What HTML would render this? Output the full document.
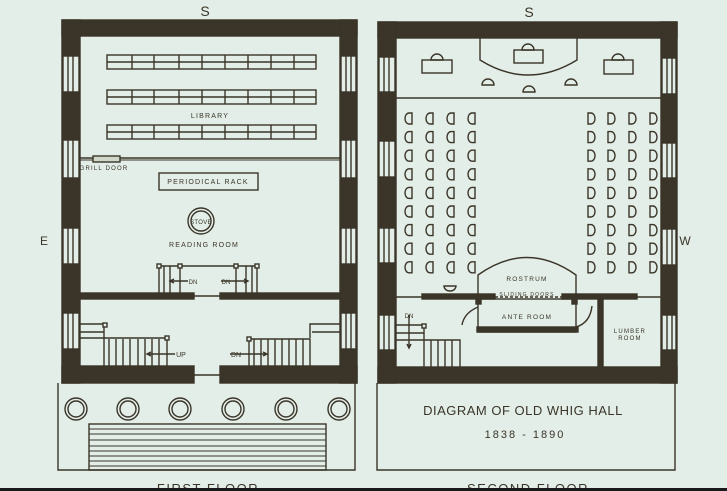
<!DOCTYPE html>
<html><head><meta charset="utf-8"><style>
html,body{margin:0;padding:0;background:#e3eee8;}
svg{display:block;}
text{font-family:"Liberation Sans",sans-serif;fill:#3a3528;}
</style></head><body>
<svg width="727" height="491" viewBox="0 0 727 491" xmlns="http://www.w3.org/2000/svg">
<rect width="727" height="491" fill="#e3eee8"/>
<g stroke="#3a3528" fill="none" stroke-width="1.4">
<rect x="62" y="20" width="295" height="16" fill="#3a3528"/>
<rect x="62" y="20" width="18" height="363" fill="#3a3528"/>
<rect x="340" y="20" width="17" height="363" fill="#3a3528"/>
<rect x="62" y="366" width="132" height="17" fill="#3a3528"/>
<rect x="220" y="366" width="137" height="17" fill="#3a3528"/>
<line x1="194" y1="375" x2="220" y2="375"/>
<rect x="80" y="293" width="114" height="6" fill="#3a3528"/>
<rect x="220" y="293" width="120" height="6" fill="#3a3528"/>
<line x1="194" y1="296" x2="220" y2="296"/>
<g fill="#e3eee8">
<rect x="63" y="56" width="16" height="36"/><rect x="341" y="56" width="15" height="36"/>
<rect x="63" y="140" width="16" height="38"/><rect x="341" y="140" width="15" height="38"/>
<rect x="63" y="228" width="16" height="36"/><rect x="341" y="228" width="15" height="36"/>
<rect x="63" y="313" width="16" height="36"/><rect x="341" y="313" width="15" height="36"/>
</g>
<path d="M68 56V92M73 56V92M68 140V178M73 140V178M68 228V264M73 228V264M68 313V349M73 313V349M346 56V92M351 56V92M346 140V178M351 140V178M346 228V264M351 228V264M346 313V349M351 313V349"/>
<g>
<rect x="107" y="55" width="209" height="14"/><line x1="107" y1="62" x2="316" y2="62"/>
<rect x="107" y="90" width="209" height="14"/><line x1="107" y1="97" x2="316" y2="97"/>
<rect x="107" y="125" width="209" height="14"/><line x1="107" y1="132" x2="316" y2="132"/>
<path d="M132 55V69M154 55V69M179 55V69M202 55V69M225 55V69M248 55V69M271 55V69M294 55V69M132 90V104M154 90V104M179 90V104M202 90V104M225 90V104M248 90V104M271 90V104M294 90V104M132 125V139M154 125V139M179 125V139M202 125V139M225 125V139M248 125V139M271 125V139M294 125V139"/>
</g>
<line x1="80" y1="158" x2="340" y2="158" stroke-width="1.5"/><line x1="80" y1="160" x2="340" y2="160" stroke-width="1"/>
<rect x="93" y="156" width="27" height="6" fill="#cfd8c8"/>
<rect x="159" y="173" width="99" height="17"/>
<circle cx="201" cy="221" r="13"/><circle cx="201" cy="221" r="10"/>
<path d="M159 266H257M159 266V293M257 266V293M164 266V293M170 266V293M180 266V293M236 266V293M246 266V293M252 266V293"/>
<rect x="157" y="264" width="4" height="4" fill="#e3eee8"/><rect x="178" y="264" width="4" height="4" fill="#e3eee8"/>
<rect x="234" y="264" width="4" height="4" fill="#e3eee8"/><rect x="255" y="264" width="4" height="4" fill="#e3eee8"/>
<path d="M170 281H188M174 279L170 281L174 283M221 281H248M244 279L248 281L244 283"/>
<path d="M80 324H104V332H80M80 338H104M104 326V338H167V366M104 338V366M109 339V366M116 339V366M123 339V366M130 339V366M138 339V366M145 339V366M152 339V366M159 339V366"/>
<rect x="103" y="323" width="4" height="4" fill="#e3eee8"/><rect x="165" y="336" width="4" height="4" fill="#e3eee8"/>
<path d="M340 324H310V338M340 332H312M249 339H310V366M249 339V366M254 339V366M261 339V366M268 339V366M275 339V366M282 339V366M289 339V366M296 339V366M303 339V366"/>
<rect x="247" y="337" width="4" height="4" fill="#e3eee8"/>
<path d="M147 354H175M151 352L147 354L151 356M230 354H267M263 352L267 354L263 356"/>
<path d="M58 383V470H355V383"/>
<g>
<circle cx="76" cy="409" r="11"/><circle cx="76" cy="409" r="8"/>
<circle cx="128" cy="409" r="11"/><circle cx="128" cy="409" r="8"/>
<circle cx="180" cy="409" r="11"/><circle cx="180" cy="409" r="8"/>
<circle cx="233" cy="409" r="11"/><circle cx="233" cy="409" r="8"/>
<circle cx="286" cy="409" r="11"/><circle cx="286" cy="409" r="8"/>
<circle cx="339" cy="409" r="11"/><circle cx="339" cy="409" r="8"/>
</g>
<rect x="89" y="424" width="237" height="46"/>
<path d="M89 429H326M89 434H326M89 440H326M89 446H326M89 451H326M89 456H326M89 461H326M89 466H326" stroke-width="1"/>

<rect x="378" y="22" width="299" height="16" fill="#3a3528"/>
<rect x="378" y="22" width="18" height="361" fill="#3a3528"/>
<rect x="661" y="22" width="16" height="361" fill="#3a3528"/>
<rect x="378" y="367" width="299" height="16" fill="#3a3528"/>
<g fill="#e3eee8">
<rect x="379" y="57" width="16" height="35"/><rect x="662" y="58" width="14" height="36"/>
<rect x="379" y="141" width="16" height="36"/><rect x="662" y="143" width="14" height="35"/>
<rect x="379" y="228" width="16" height="35"/><rect x="662" y="229" width="14" height="36"/>
<rect x="379" y="315" width="16" height="35"/><rect x="662" y="315" width="14" height="35"/>
</g>
<path d="M384 57V92M389 57V92M384 141V177M389 141V177M384 228V263M389 228V263M384 315V350M389 315V350M667 58V94M672 58V94M667 143V178M672 143V178M667 229V265M672 229V265M667 315V350M672 315V350"/>
<line x1="396" y1="98" x2="661" y2="98"/>
<path d="M480 38V60Q528 90 577 60V38"/>
<rect x="422" y="60" width="30" height="13"/><path d="M431 60A6 6 0 0 1 443 60Z"/>
<rect x="514" y="50" width="29" height="13"/><path d="M522 50A6 6 0 0 1 534 50Z"/>
<rect x="604" y="60" width="29" height="14"/><path d="M612 60A6 6 0 0 1 624 60Z"/>
<path d="M482 85A6 6 0 0 1 494 85Z"/><path d="M523 92A6 6 0 0 1 535 92Z"/><path d="M565 85A6 6 0 0 1 577 85Z"/>
<g id="lseat">
<path d="M409 113A4 5.5 0 0 0 409 124H412V113Z"/><path d="M430 113A4 5.5 0 0 0 430 124H433V113Z"/><path d="M451 113A4 5.5 0 0 0 451 124H454V113Z"/><path d="M472 113A4 5.5 0 0 0 472 124H475V113Z"/>
<path d="M588 113V124H591A4 5.5 0 0 0 591 113Z"/><path d="M608 113V124H611A4 5.5 0 0 0 611 113Z"/><path d="M629 113V124H632A4 5.5 0 0 0 632 113Z"/><path d="M650 113V124H653A4 5.5 0 0 0 653 113Z"/>
</g>
<use href="#lseat" y="18.6"/><use href="#lseat" y="37.2"/><use href="#lseat" y="55.8"/><use href="#lseat" y="74.4"/><use href="#lseat" y="93"/><use href="#lseat" y="111.6"/><use href="#lseat" y="130.2"/><use href="#lseat" y="148.8"/>
<path d="M444 286H456A6 5 0 0 1 444 286Z"/>
<line x1="396" y1="297" x2="422" y2="297"/>
<rect x="422" y="294" width="73" height="5" fill="#3a3528"/>
<path d="M495 297H562" stroke-dasharray="3 2"/>
<rect x="562" y="294" width="75" height="5" fill="#3a3528"/>
<line x1="637" y1="297" x2="661" y2="297"/>
<path d="M478 297V275Q527 240 576 275V297"/>
<rect x="478" y="299" width="98" height="33"/>
<rect x="476" y="296" width="5" height="8" fill="#3a3528"/><rect x="572" y="296" width="5" height="8" fill="#3a3528"/>
<rect x="477" y="327" width="101" height="5" fill="#3a3528"/>
<path d="M478 307Q464 313 462 325M576 327Q590 323 592 306"/>
<rect x="598" y="299" width="5" height="68" fill="#3a3528"/>
<path d="M396 325H424V333H396M396 340H424M424 327V367M424 340H460V367M431 340V367M438 340V367M445 340V367M452 340V367"/>
<rect x="422" y="324" width="4" height="4" fill="#e3eee8"/>
<path d="M409 315V348M407 344L409 348L411 344"/>
<path d="M377 383V470H675V383"/>
</g>
<g text-anchor="middle" font-size="13" letter-spacing="1.5">
<text x="208" y="493">FIRST FLOOR</text>
<text x="528" y="493">SECOND FLOOR</text>
</g>
<rect x="0" y="488" width="727" height="3" fill="#1a1a1a"/>
<g font-size="7" letter-spacing="1.2" text-anchor="middle">
<text x="210" y="118">LIBRARY</text>
<text x="104" y="170" font-size="6">GRILL DOOR</text>
<text x="208" y="184">PERIODICAL RACK</text>
<text x="201" y="224" font-size="6" letter-spacing="0.3">STOVE</text>
<text x="204" y="247">READING ROOM</text>
<text x="193" y="284" font-size="6" letter-spacing="0">DN</text>
<text x="226" y="284" font-size="6" letter-spacing="0">DN</text>
<text x="181" y="357" letter-spacing="0">UP</text>
<text x="236" y="357" letter-spacing="0">DN</text>
<text x="527" y="281" font-size="6.5">ROSTRUM</text>
<text x="527" y="296" font-size="5">SLIDING DOORS</text>
<text x="527" y="319" font-size="6.5">ANTE ROOM</text>
<text x="630" y="333" font-size="6">LUMBER</text>
<text x="630" y="340" font-size="6">ROOM</text>
<text x="409" y="318" font-size="6" letter-spacing="0">DN</text>
</g>
<g text-anchor="middle" font-size="14">
<text x="205" y="16">S</text><text x="529" y="17">S</text>
<text x="44" y="245" font-size="12">E</text><text x="685" y="245" font-size="12">W</text>
<text x="523" y="415" font-size="13" letter-spacing="0.5">DIAGRAM OF OLD WHIG HALL</text>
<text x="525" y="438" font-size="11" letter-spacing="2">1838 - 1890</text>
</g>
</svg>
</body></html>
